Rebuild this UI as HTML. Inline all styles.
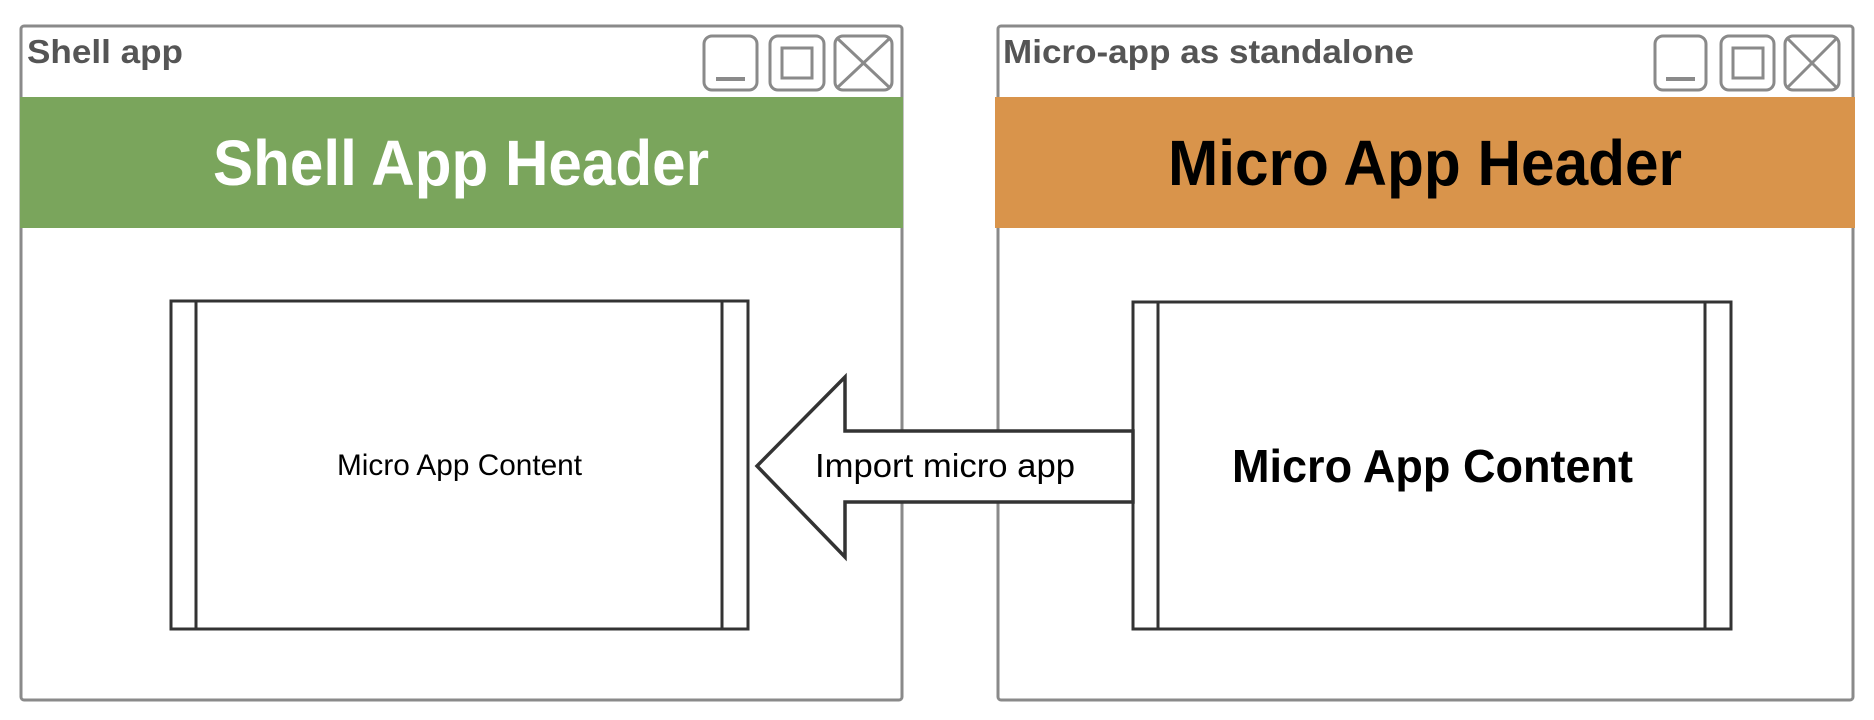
<!DOCTYPE html>
<html><head><meta charset="utf-8"><style>html,body{margin:0;padding:0;background:#fff;}svg{display:block}</style></head>
<body>
<svg width="1874" height="720" viewBox="0 0 1874 720" xmlns="http://www.w3.org/2000/svg" font-family="Liberation Sans, Arial, sans-serif">
<rect width="1874" height="720" fill="#fff"/>
<!-- Left window -->
<rect x="21" y="26" width="881" height="674" rx="3" fill="#fff" stroke="#8a8a8a" stroke-width="3"/>
<rect x="20" y="97" width="883" height="131" fill="#7aa55c"/>
<text x="27" y="63" font-size="33" font-weight="bold" fill="#555" textLength="156" lengthAdjust="spacingAndGlyphs">Shell app</text>
<g fill="none" stroke="#8a8a8a" stroke-width="3">
<rect x="704" y="36" width="53" height="54" rx="8"/>
<line x1="716" y1="79" x2="745" y2="79" stroke-width="4"/>
<rect x="770" y="36" width="54" height="54" rx="8"/>
<rect x="782" y="48" width="30" height="30"/>
<rect x="835" y="36" width="57" height="54" rx="8"/>
<line x1="838" y1="39" x2="889" y2="87"/><line x1="889" y1="39" x2="838" y2="87"/>
</g>
<text x="213" y="185" font-size="64" font-weight="bold" fill="#fff" textLength="496" lengthAdjust="spacingAndGlyphs">Shell App Header</text>
<g fill="none" stroke="#333" stroke-width="3">
<rect x="171" y="301" width="577" height="328"/>
<line x1="196" y1="301" x2="196" y2="629"/><line x1="722" y1="301" x2="722" y2="629"/>
</g>
<text x="337" y="475" font-size="30" fill="#000" textLength="245" lengthAdjust="spacingAndGlyphs">Micro App Content</text>
<!-- Right window -->
<rect x="998" y="26" width="855" height="674" rx="3" fill="#fff" stroke="#8a8a8a" stroke-width="3"/>
<rect x="995" y="97" width="860" height="131" fill="#d9944b"/>
<text x="1003" y="63" font-size="33" font-weight="bold" fill="#555" textLength="411" lengthAdjust="spacingAndGlyphs">Micro-app as standalone</text>
<g fill="none" stroke="#8a8a8a" stroke-width="3">
<rect x="1655" y="36" width="51" height="54" rx="8"/>
<line x1="1666" y1="79" x2="1695" y2="79" stroke-width="4"/>
<rect x="1721" y="36" width="53" height="54" rx="8"/>
<rect x="1733" y="48" width="30" height="30"/>
<rect x="1785" y="36" width="54" height="54" rx="8"/>
<line x1="1788" y1="39" x2="1836" y2="87"/><line x1="1836" y1="39" x2="1788" y2="87"/>
</g>
<text x="1168" y="185" font-size="64" font-weight="bold" fill="#000" textLength="514" lengthAdjust="spacingAndGlyphs">Micro App Header</text>
<g fill="none" stroke="#333" stroke-width="3">
<rect x="1133" y="302" width="598" height="327"/>
<line x1="1158" y1="302" x2="1158" y2="629"/><line x1="1705" y1="302" x2="1705" y2="629"/>
</g>
<text x="1232" y="482" font-size="46" font-weight="bold" fill="#000" textLength="401" lengthAdjust="spacingAndGlyphs">Micro App Content</text>
<!-- Arrow -->
<path d="M1133 431 L845 431 L845 377 L757 466 L845 557 L845 502 L1133 502 Z" fill="#fff" stroke="#333" stroke-width="3.5" stroke-linejoin="miter"/>
<text x="815" y="477" font-size="33" fill="#000" textLength="260" lengthAdjust="spacingAndGlyphs">Import micro app</text>
</svg>
</body></html>
